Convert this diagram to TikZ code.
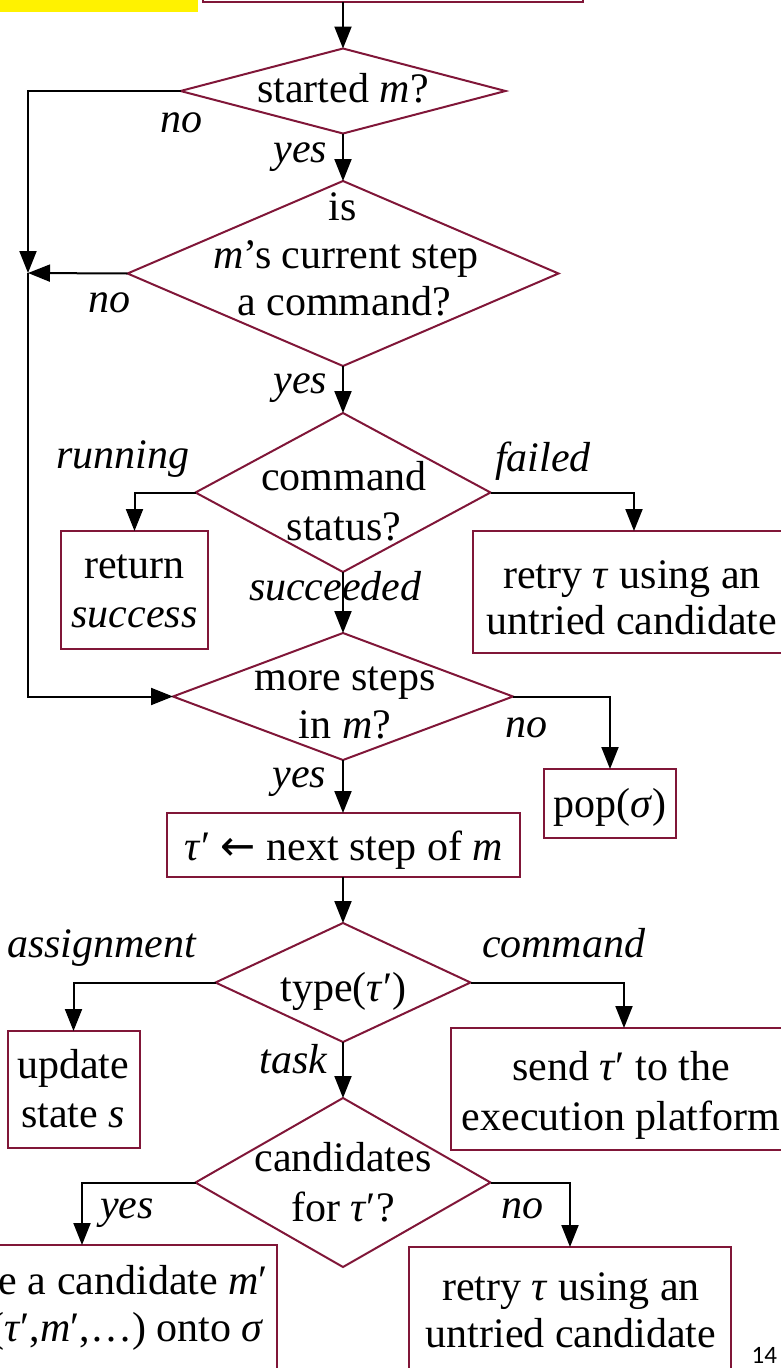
\documentclass[tikz,border=0pt]{standalone}
\usepackage{fontspec}
\setmainfont{Liberation Serif}
\newfontfamily\pagenumfont{Carlito}
\newfontfamily\arrowfont{DejaVu Sans}
\usetikzlibrary{arrows.meta,shapes.geometric}
\definecolor{frame}{RGB}{128,22,56}

\begin{document}
\begin{tikzpicture}[x=1pt,y=-1pt,
  every node/.style={inner sep=0pt, outer sep=0pt},
  box/.style={draw=frame, line width=2pt},
  dia/.style={draw=frame, line width=2pt, shape=diamond},
  conn/.style={draw=black, line width=2pt, -{Triangle[length=22pt,width=17pt]}},
  txt/.style={anchor=base, font=\fontsize{42}{48}\selectfont},
  lbl/.style={font=\fontsize{42}{48}\selectfont\itshape},
]
\useasboundingbox (0,0) rectangle (781,1368);

% highlight strip and the box above the flow
\node[fill=yellow, minimum width=198pt, minimum height=40pt, anchor=south west] (hl) at (0,12) {};
\node[box, minimum width=380pt, minimum height=60pt, anchor=south] (top) at (393,1.5) {};

% decisions
\node[dia, minimum width=325pt, minimum height=85pt]  (d1) at (343,91) {};
\node[dia, minimum width=431pt, minimum height=185pt] (d2) at (343,273.5) {};
\node[dia, minimum width=295pt, minimum height=159pt] (d3) at (343,492.5) {};
\node[dia, minimum width=340pt, minimum height=127pt] (d4) at (343,696.5) {};
\node[dia, minimum width=255pt, minimum height=119pt] (d5) at (343,982.5) {};
\node[dia, minimum width=295pt, minimum height=169pt] (d6) at (343,1182.5) {};

% actions
\node[box, minimum width=147pt, minimum height=118pt] (ret)    at (134.5,590) {};
\node[box, minimum width=322pt, minimum height=122pt] (retryA) at (634,592) {};
\node[box, minimum width=132pt, minimum height=69pt]  (pop)    at (610,803.5) {};
\node[box, minimum width=353pt, minimum height=64pt]  (nxt)    at (343,845) {};
\node[box, minimum width=132pt, minimum height=117pt] (upd)    at (73.5,1089.5) {};
\node[box, minimum width=346pt, minimum height=122pt] (send)   at (624,1089) {};
\node[box, minimum width=390pt, minimum height=150pt] (cand)   at (82,1320) {};
\node[box, minimum width=322pt, minimum height=150pt] (retryB) at (570,1322) {};

\coordinate (j) at (28,273);

% texts inside the decisions
\node[txt] (d1t)  at (343,102) {started \textit{m}?};
\node[txt] (d2t1) at (343,220) {is};
\node[txt] (d2t2) at (346,268) {\textit{m}’s current step};
\node[txt] (d2t3) at (344,315) {a command?};
\node[txt] (d3t1) at (344,490) {command};
\node[txt] (d3t2) at (344,540) {status?};
\node[txt] (d4t1) at (345,690) {more steps};
\node[txt] (d4t2) at (345,738) {in \textit{m}?};
\node[txt] (d5t)  at (343.5,1001) {type(\textit{τ}′)};
\node[txt] (d6t1) at (343,1171) {candidates};
\node[txt] (d6t2) at (343,1221) {for \textit{τ}′?};

% texts inside the actions
\node[txt] (rett1) at (134.5,578) {return};
\node[txt] (rett2) at (134.5,627) {\textit{success}};
\node[txt] (rAt1)  at (632,588) {retry \textit{τ} using an};
\node[txt] (rAt2)  at (632,634) {untried candidate};
\node[txt] (popt)  at (610,817) {pop(\textit{σ})};
\node[txt] (nxtt)  at (344,860) {\textit{τ}′ {\arrowfont ←} next step of \textit{m}};
\node[txt] (updt1) at (73,1078) {update};
\node[txt] (updt2) at (73,1127) {state \textit{s}};
\node[txt] (sendt1) at (621,1080) {send \textit{τ}′ to the};
\node[txt] (sendt2) at (621,1130) {execution platform};
\node[txt, anchor=base east] (cat1) at (268,1294) {e a candidate \textit{m}′};
\node[txt, anchor=base east] (cat2) at (264,1341) {(\textit{τ}′,\textit{m}′,…) onto \textit{σ}};
\node[txt] (rBt1) at (571,1300) {retry \textit{τ} using an};
\node[txt] (rBt2) at (571,1347) {untried candidate};

% branch labels
\node[lbl, anchor=base west] (l1no)  at (160,132) {no};
\node[lbl, anchor=base east] (l1yes) at (327,162) {yes};
\node[lbl, anchor=base west] (l2no)  at (88,312) {no};
\node[lbl, anchor=base east] (l2yes) at (327,393) {yes};
\node[lbl, anchor=base west] (l3run) at (56,468) {running};
\node[lbl, anchor=base west] (l3fail) at (495,471) {failed};
\node[lbl, anchor=base west] (l3ok)  at (249,600) {succeeded};
\node[lbl, anchor=base west] (l4no)  at (505,737) {no};
\node[lbl, anchor=base east] (l4yes) at (326,787) {yes};
\node[lbl, anchor=base west] (l5as)  at (7,957) {assignment};
\node[lbl, anchor=base west] (l5cmd) at (482,957) {command};
\node[lbl, anchor=base east] (l5task) at (327,1073) {task};
\node[lbl, anchor=base west] (l6yes) at (100,1218) {yes};
\node[lbl, anchor=base west] (l6no)  at (501,1218) {no};

% connectors
\draw[conn] (top.south -| d1.north) -- (d1.north);
\draw[conn] (d1.south) -- (d2.north);
\draw[conn] (d1.west) -| (j);
\draw[conn] (d2.west) -- (j);
\draw[conn] (j) |- (d4.west);
\draw[conn] (d2.south) -- (d3.north);
\draw[conn] (d3.west) -| (ret.north);
\draw[conn] (d3.east) -| (retryA.north);
\draw[conn] (d3.south) -- (d4.north);
\draw[conn] (d4.east) -| (pop.north);
\draw[conn] (d4.south) -- (nxt.north);
\draw[conn] (nxt.south) -- (d5.north);
\draw[conn] (d5.west) -| (upd.north);
\draw[conn] (d5.east) -| (send.north);
\draw[conn] (d5.south) -- (d6.north);
\draw[conn] (d6.west) -| (cand.north);
\draw[conn] (d6.east) -| (retryB.north);

% page number
\node[anchor=base east, font=\pagenumfont\fontsize{25}{30}\selectfont] (pg) at (777,1363) {14};
\end{tikzpicture}
\end{document}
